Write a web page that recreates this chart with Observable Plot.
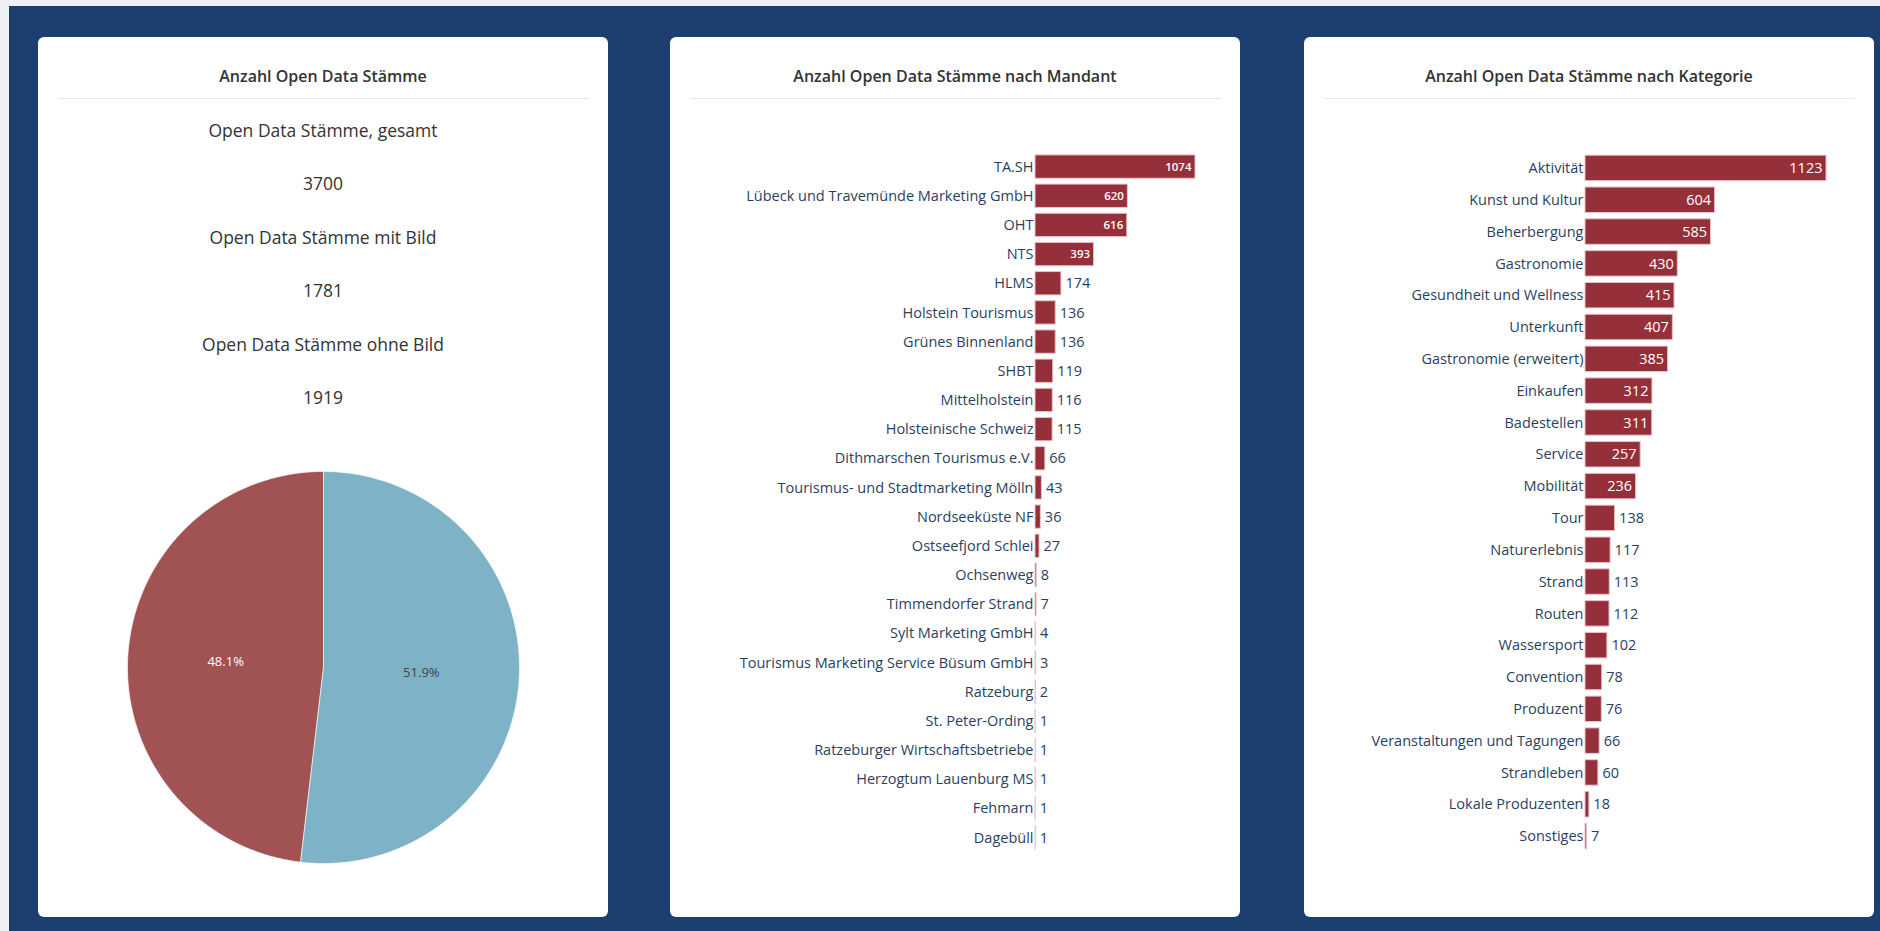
<!DOCTYPE html>
<html>
<head>
<meta charset="utf-8">
<script src="https://cdn.jsdelivr.net/npm/d3@7"></script>
<script src="https://cdn.jsdelivr.net/npm/@observablehq/plot@0.6"></script>
<style>
html,body{margin:0;padding:0;}
body{width:1880px;height:931px;background:#eef0f5;position:relative;overflow:hidden;font-family:"Open Sans",sans-serif;}
#bg{position:absolute;left:9px;top:6px;right:0;bottom:0;background:#1d3f6f;}
.card{position:absolute;top:37px;width:570px;height:880px;background:#fff;border-radius:6px;}
.title{position:absolute;left:0;right:0;top:27px;line-height:24px;text-align:center;font-size:16px;font-weight:600;color:#333;}
.sep{position:absolute;left:20px;right:19px;top:61px;height:1px;background:#e6e6e6;}
.stat{position:absolute;left:0;right:0;text-align:center;font-size:17.5px;line-height:24px;color:#333;}
.chart{position:absolute;left:0;}
</style>
</head>
<body>
<div id="bg"></div>
<div class="card" id="c1" style="left:38px"><div class="title" id="t1"></div><div class="sep"></div></div>
<div class="card" id="c2" style="left:670px"><div class="title" id="t2"></div><div class="sep"></div></div>
<div class="card" id="c3" style="left:1304px"><div class="title" id="t3"></div><div class="sep"></div></div>
<script>
// ---- data ----
const titles = ["Anzahl Open Data Stämme", "Anzahl Open Data Stämme nach Mandant", "Anzahl Open Data Stämme nach Kategorie"];

const statLabels = ["Open Data Stämme, gesamt", "Open Data Stämme mit Bild", "Open Data Stämme ohne Bild"];
const statValues = [3700, 1781, 1919];

const pieLabels = ["Open Data Stämme mit Bild", "Open Data Stämme ohne Bild"];
const pieValues = [1781, 1919];

const mandantNames = ["TA.SH", "Lübeck und Travemünde Marketing GmbH", "OHT", "NTS", "HLMS", "Holstein Tourismus", "Grünes Binnenland", "SHBT", "Mittelholstein", "Holsteinische Schweiz", "Dithmarschen Tourismus e.V.", "Tourismus- und Stadtmarketing Mölln", "Nordseeküste NF", "Ostseefjord Schlei", "Ochsenweg", "Timmendorfer Strand", "Sylt Marketing GmbH", "Tourismus Marketing Service Büsum GmbH", "Ratzeburg", "St. Peter-Ording", "Ratzeburger Wirtschaftsbetriebe", "Herzogtum Lauenburg MS", "Fehmarn", "Dagebüll"];
const mandantValues = [1074, 620, 616, 393, 174, 136, 136, 119, 116, 115, 66, 43, 36, 27, 8, 7, 4, 3, 2, 1, 1, 1, 1, 1];

const kategorieNames = ["Aktivität", "Kunst und Kultur", "Beherbergung", "Gastronomie", "Gesundheit und Wellness", "Unterkunft", "Gastronomie (erweitert)", "Einkaufen", "Badestellen", "Service", "Mobilität", "Tour", "Naturerlebnis", "Strand", "Routen", "Wassersport", "Convention", "Produzent", "Veranstaltungen und Tagungen", "Strandleben", "Lokale Produzenten", "Sonstiges"];
const kategorieValues = [1123, 604, 585, 430, 415, 407, 385, 312, 311, 257, 236, 138, 117, 113, 112, 102, 78, 76, 66, 60, 18, 7];

// ---- styles ----
const pieColors = {"Open Data Stämme mit Bild": "#a15252", "Open Data Stämme ohne Bild": "#7eb2c6"};
const pieTextColors = {"Open Data Stämme mit Bild": "#ffffff", "Open Data Stämme ohne Bild": "#444444"};
const barFill = "#952f3a";
const barStroke = "#e8c3c8";
const labelColor = "#2a3f5f";

// titles
titles.forEach((t, i) => document.getElementById("t" + (i + 1)).textContent = t);

// stats
const c1 = document.getElementById("c1");
statLabels.forEach((lab, i) => {
  [lab, String(statValues[i])].forEach((txt, j) => {
    const d = document.createElement("div");
    d.className = "stat";
    d.style.top = (81 + (i * 2 + j) * 53.4) + "px";
    d.textContent = txt;
    c1.appendChild(d);
  });
});

// pie
const total = d3.sum(pieValues);
const arcs = d3.pie().value(d => d.value)(pieLabels.map((l, i) => ({label: l, value: pieValues[i]})));
const pieMarks = [];
const pieText = [];
arcs.forEach(a => {
  const pts = [{x: 0, y: 0}];
  const N = 240;
  for (let k = 0; k <= N; k++) {
    const t = a.startAngle + (a.endAngle - a.startAngle) * k / N;
    pts.push({x: Math.sin(t), y: Math.cos(t)});
  }
  pts.push({x: 0, y: 0});
  pieMarks.push(Plot.line(pts, {x: "x", y: "y", fill: pieColors[a.data.label], stroke: "#ffffff", strokeWidth: 0.6, curve: "linear"}));
  const m = (a.startAngle + a.endAngle) / 2;
  pieText.push({x: 0.5 * Math.sin(m), y: 0.5 * Math.cos(m), label: a.data.label, text: (a.data.value / total * 100).toFixed(1) + "%"});
});
const pie = Plot.plot({
  width: 570, height: 420,
  marginLeft: 89, marginRight: 89, marginTop: 14, marginBottom: 14,
  style: {fontFamily: "Open Sans", background: "transparent"},
  x: {domain: [-1, 1], axis: null},
  y: {domain: [-1, 1], axis: null},
  marks: [
    ...pieMarks,
    Plot.text(pieText, {x: "x", y: "y", text: "text", fill: d => pieTextColors[d.label], fontSize: 13})
  ]
});
pie.classList.add("chart");
pie.style.top = "420px";
c1.appendChild(pie);

// bars
function barChart(names, values, ml, mr, inFont, inWeight) {
  const data = names.map((n, i) => ({name: n, value: values[i]}));
  const max = d3.max(values);
  const plotW = 570 - ml - mr;
  const fits = d => d.value / max * plotW > String(d.value).length * 14 * 0.56 + 8;
  return Plot.plot({
    width: 570, height: 730,
    marginLeft: ml, marginRight: mr, marginTop: 15, marginBottom: 15,
    style: {fontFamily: "Open Sans", fontSize: "14.5px", color: labelColor, background: "transparent"},
    x: {domain: [0, max], axis: null},
    y: {type: "band", domain: names, paddingInner: 0.2, paddingOuter: 0.1, round: false, label: null},
    marks: [
      Plot.barX(data, {x: "value", y: "name", fill: barFill, stroke: barStroke, strokeWidth: 1}),
      Plot.axisY({tickSize: 0, tickPadding: 2, fontSize: 14.5, label: null}),
      Plot.text(data.filter(fits), {x: "value", y: "name", text: d => String(d.value), textAnchor: "end", dx: -4, fill: "#ffffff", fontSize: inFont, fontWeight: inWeight}),
      Plot.text(data.filter(d => !fits(d)), {x: "value", y: "name", text: d => String(d.value), textAnchor: "start", dx: 4, fill: labelColor, fontSize: 14.5})
    ]
  });
}
const b2 = barChart(mandantNames, mandantValues, 365, 45, 11.5, 600);
b2.classList.add("chart");
b2.style.top = "100px";
document.getElementById("c2").appendChild(b2);

const b3 = barChart(kategorieNames, kategorieValues, 281, 48, 14.5, 400);
b3.classList.add("chart");
b3.style.top = "100px";
document.getElementById("c3").appendChild(b3);
</script>
</body>
</html>
